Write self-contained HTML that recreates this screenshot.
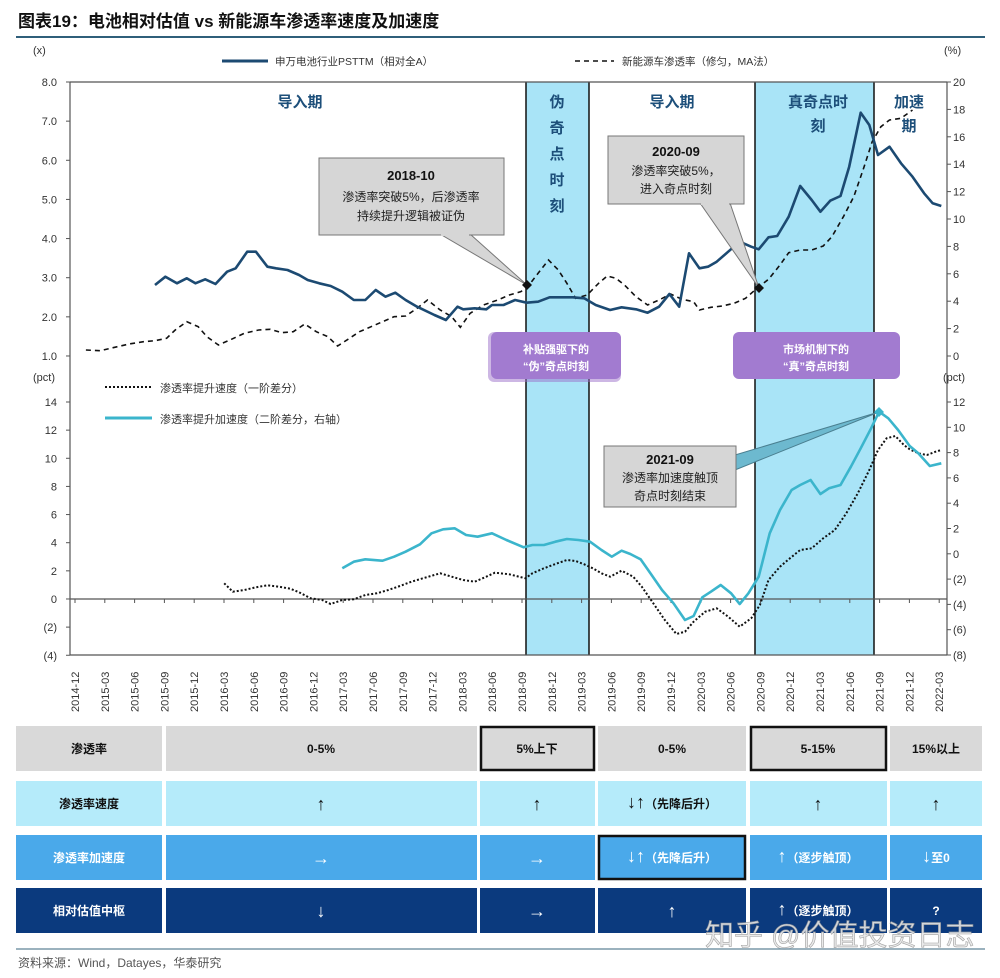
<!DOCTYPE html>
<html><head><meta charset="utf-8">
<style>
body{margin:0;background:#fff;width:1000px;height:973px;overflow:hidden;font-family:"Liberation Sans","Noto Sans CJK SC",sans-serif;}
svg text{font-family:"Liberation Sans","Noto Sans CJK SC",sans-serif;}
.ar{font-size:18px;}
</style></head><body>
<svg id="s" width="1000" height="973" viewBox="0 0 1000 973" xmlns="http://www.w3.org/2000/svg">
<text x="18" y="27" font-size="17" font-weight="bold" fill="#111">图表19：电池相对估值 vs 新能源车渗透率速度及加速度</text>
<line x1="16" y1="37" x2="985" y2="37" stroke="#2f5f7a" stroke-width="2"/>
<text x="33" y="54" font-size="11" fill="#333">(x)</text>
<text x="944" y="54" font-size="11" fill="#333">(%)</text>
<line x1="222" y1="61" x2="268" y2="61" stroke="#1c4a72" stroke-width="3"/>
<text x="275" y="65" font-size="10.5" fill="#333">申万电池行业PSTTM（相对全A）</text>
<line x1="575" y1="61" x2="614" y2="61" stroke="#111" stroke-width="1.6" stroke-dasharray="5,4"/>
<text x="622" y="65" font-size="10.5" fill="#333">新能源车渗透率（修匀，MA法）</text>
<rect x="526" y="82" width="63" height="573" fill="#a9e4f7"/>
<rect x="755" y="82" width="119" height="573" fill="#a9e4f7"/>
<g stroke="#111" stroke-width="1.5">
<line x1="526" y1="82" x2="526" y2="655"/><line x1="589" y1="82" x2="589" y2="655"/>
<line x1="755" y1="82" x2="755" y2="655"/><line x1="874" y1="82" x2="874" y2="655"/>
</g>
<g fill="#1d4f7a" font-size="15" font-weight="bold" text-anchor="middle">
<text x="300" y="107">导入期</text><text x="672" y="107">导入期</text>
<text x="557" y="107">伪</text><text x="557" y="133">奇</text><text x="557" y="159">点</text><text x="557" y="185">时</text><text x="557" y="211">刻</text>
<text x="818" y="107">真奇点时</text><text x="818" y="131">刻</text>
<text x="909" y="107">加速</text><text x="909" y="131">期</text>
</g>
<g stroke="#555" stroke-width="1.2" fill="none">
<line x1="70" y1="82" x2="70" y2="655"/><line x1="947" y1="82" x2="947" y2="655"/>
<line x1="70" y1="82" x2="947" y2="82"/><line x1="70" y1="655" x2="947" y2="655"/>
<line x1="70" y1="599" x2="947" y2="599"/>
</g>
<g id="ticks" stroke="#555" stroke-width="1"></g>
<g font-size="11" fill="#333" text-anchor="end" id="ll"></g>
<g font-size="11" fill="#333" text-anchor="start" id="rl"></g>
<text x="33" y="381" font-size="11" fill="#333">(pct)</text>
<text x="943" y="381" font-size="11" fill="#333">(pct)</text>
<line x1="105" y1="387" x2="152" y2="387" stroke="#111" stroke-width="2" stroke-dasharray="2,2"/>
<text x="160" y="392" font-size="11" fill="#333">渗透率提升速度（一阶差分）</text>
<line x1="105" y1="418" x2="152" y2="418" stroke="#3bb5cc" stroke-width="3"/>
<text x="160" y="423" font-size="11" fill="#333">渗透率提升加速度（二阶差分，右轴）</text>
<g id="series"></g>
<polygon points="440,234 470,234 527,285" fill="#d6d6d6" stroke="#777"/>
<rect x="319" y="158" width="185" height="77" fill="#d6d6d6" stroke="#777"/>
<rect x="441" y="232" width="28" height="4" fill="#d6d6d6"/>
<text x="411" y="180" font-size="13" font-weight="bold" text-anchor="middle" fill="#111">2018-10</text>
<text x="411" y="201" font-size="12" text-anchor="middle" fill="#222">渗透率突破5%，后渗透率</text>
<text x="411" y="220" font-size="12" text-anchor="middle" fill="#222">持续提升逻辑被证伪</text>
<polygon points="700,203 730,203 759,288" fill="#d6d6d6" stroke="#777"/>
<rect x="608" y="136" width="136" height="68" fill="#d6d6d6" stroke="#777"/>
<rect x="701" y="201" width="28" height="4" fill="#d6d6d6"/>
<text x="676" y="156" font-size="13" font-weight="bold" text-anchor="middle" fill="#111">2020-09</text>
<text x="676" y="175" font-size="12" text-anchor="middle" fill="#222">渗透率突破5%，</text>
<text x="676" y="193" font-size="12" text-anchor="middle" fill="#222">进入奇点时刻</text>
<polygon points="735,455 735,470 879,412" fill="#6db9cf" stroke="#4a7f90"/>
<rect x="604" y="446" width="132" height="61" fill="#d6d6d6" stroke="#777"/>
<text x="670" y="464" font-size="13" font-weight="bold" text-anchor="middle" fill="#111">2021-09</text>
<text x="670" y="482" font-size="12" text-anchor="middle" fill="#222">渗透率加速度触顶</text>
<text x="670" y="500" font-size="12" text-anchor="middle" fill="#222">奇点时刻结束</text>
<rect x="488" y="332" width="133" height="50" rx="6" fill="#9b6fc9" opacity="0.5"/>
<rect x="491" y="332" width="130" height="47" rx="6" fill="#a27bd0"/>
<text x="556" y="353" font-size="11" font-weight="bold" text-anchor="middle" fill="#fff">补贴强驱下的</text>
<text x="556" y="370" font-size="11" font-weight="bold" text-anchor="middle" fill="#fff">“伪”奇点时刻</text>
<rect x="733" y="332" width="167" height="47" rx="6" fill="#a27bd0"/>
<text x="816" y="353" font-size="11" font-weight="bold" text-anchor="middle" fill="#fff">市场机制下的</text>
<text x="816" y="370" font-size="11" font-weight="bold" text-anchor="middle" fill="#fff">“真”奇点时刻</text>
<polygon points="527,280 532,285 527,290 522,285" fill="#111"/>
<polygon points="759,283 764,288 759,293 754,288" fill="#111"/>
<polygon points="879,407 884,412 879,417 874,412" fill="#3bb5cc"/>
<g id="xl" font-size="11" fill="#333"></g>
<g font-size="12" font-weight="bold" text-anchor="middle">
<g fill="#d9d9d9"><rect x="16" y="726" width="146" height="45"/><rect x="166" y="726" width="311" height="45"/><rect x="480" y="726" width="115" height="45"/><rect x="598" y="726" width="148" height="45"/><rect x="750" y="726" width="137" height="45"/><rect x="890" y="726" width="92" height="45"/></g>
<rect x="481" y="727" width="113" height="43" fill="none" stroke="#111" stroke-width="2.5"/>
<rect x="751" y="727" width="135" height="43" fill="none" stroke="#111" stroke-width="2.5"/>
<g fill="#111"><text x="89" y="753">渗透率</text><text x="321" y="753">0-5%</text><text x="537" y="753">5%上下</text><text x="672" y="753">0-5%</text><text x="818" y="753">5-15%</text><text x="936" y="753">15%以上</text></g>
<g fill="#b5ebfa"><rect x="16" y="781" width="146" height="45"/><rect x="166" y="781" width="311" height="45"/><rect x="480" y="781" width="115" height="45"/><rect x="598" y="781" width="148" height="45"/><rect x="750" y="781" width="137" height="45"/><rect x="890" y="781" width="92" height="45"/></g>
<g fill="#111"><text x="89" y="808">渗透率速度</text><text class="ar" x="321" y="810">↑</text><text class="ar" x="537" y="810">↑</text><text x="672" y="808"><tspan class="ar">↓↑</tspan>（先降后升）</text><text class="ar" x="818" y="810">↑</text><text class="ar" x="936" y="810">↑</text></g>
<g fill="#4aa9ea"><rect x="16" y="835" width="146" height="45"/><rect x="166" y="835" width="311" height="45"/><rect x="480" y="835" width="115" height="45"/><rect x="598" y="835" width="148" height="45"/><rect x="750" y="835" width="137" height="45"/><rect x="890" y="835" width="92" height="45"/></g>
<rect x="599" y="836" width="146" height="43" fill="none" stroke="#111" stroke-width="2.5"/>
<g fill="#fff"><text x="89" y="862">渗透率加速度</text><text class="ar" x="321" y="864">→</text><text class="ar" x="537" y="864">→</text><text x="672" y="862"><tspan class="ar">↓↑</tspan>（先降后升）</text><text x="818" y="862"><tspan class="ar">↑</tspan>（逐步触顶）</text><text x="936" y="862"><tspan class="ar">↓</tspan>至0</text></g>
<g fill="#0b3a7e"><rect x="16" y="888" width="146" height="45"/><rect x="166" y="888" width="311" height="45"/><rect x="480" y="888" width="115" height="45"/><rect x="598" y="888" width="148" height="45"/><rect x="750" y="888" width="137" height="45"/><rect x="890" y="888" width="92" height="45"/></g>
<g fill="#fff"><text x="89" y="915">相对估值中枢</text><text class="ar" x="321" y="917">↓</text><text class="ar" x="537" y="917">→</text><text class="ar" x="672" y="917">↑</text><text x="818" y="915"><tspan class="ar">↑</tspan>（逐步触顶）</text><text x="936" y="915">?</text></g>
</g>
<text x="705" y="945" font-size="29" fill="#e8e8e8" stroke="#999" stroke-width="0.6" opacity="0.9">知乎 @价值投资日志</text>
<line x1="16" y1="949" x2="985" y2="949" stroke="#7a98a8" stroke-width="1.5"/>
<text x="18" y="967" font-size="12" fill="#555">资料来源：Wind，Datayes，华泰研究</text>
</svg>
<script>
var NS="http://www.w3.org/2000/svg";
function el(p,t,a,txt){var e=document.createElementNS(NS,t);for(var k in a)e.setAttribute(k,a[k]);if(txt!==undefined)e.textContent=txt;document.getElementById(p).appendChild(e);return e;}
var L=["8.0","7.0","6.0","5.0","4.0","3.0","2.0","1.0"];
for(var i=0;i<8;i++){var y=82+i*39.14;el("ll","text",{x:57,y:y+4},L[i]);el("ticks","line",{x1:66,y1:y,x2:70,y2:y});}
for(var i=0;i<=10;i++){var y=82+i*27.4;el("rl","text",{x:953,y:y+4},String(20-2*i));el("ticks","line",{x1:947,y1:y,x2:951,y2:y});}
var LL=["14","12","10","8","6","4","2","0","(2)","(4)"];
for(var i=0;i<10;i++){var y=402+i*28.14;el("ll","text",{x:57,y:y+4},LL[i]);el("ticks","line",{x1:66,y1:y,x2:70,y2:y});}
var RL=["12","10","8","6","4","2","0","(2)","(4)","(6)","(8)"];
for(var i=0;i<11;i++){var y=402+i*25.3;el("rl","text",{x:953,y:y+4},RL[i]);el("ticks","line",{x1:947,y1:y,x2:951,y2:y});}
var yrs=[];var y0=2014,m0=12;
for(var i=0;i<30;i++){var mm=m0+3*i;var yy=y0+Math.floor((mm-1)/12);var m=((mm-1)%12)+1;yrs.push(yy+"-"+(m<10?"0":"")+m);}
for(var i=0;i<30;i++){var x=75+i*29.8;if(x>940)break;el("xl","text",{transform:"translate("+(x+4)+",712) rotate(-90)"},yrs[i]);el("ticks","line",{x1:x,y1:599,x2:x,y2:603});}
function pts(a,oy){var s=[];for(var i=0;i<a.length;i+=2){s.push((60+a[i]/1.736).toFixed(1)+","+(oy+a[i+1]/3).toFixed(1));}return s.join(" ");}
var dark=[165,645,183,620,203,640,220,625,235,640,252,628,270,642,290,605,305,595,325,545,340,545,360,590,375,595,395,600,415,615,430,630,450,640,470,648,490,665,510,690,530,690,548,660,565,680,582,668,600,690,620,710,650,735,670,750,690,710,700,718,720,715,740,718,750,705,770,705,790,690,810,698,830,695,850,682,870,682,890,682,910,685,930,705,955,720,975,712,1000,718,1020,728,1040,710,1058,672,1075,710,1092,550,1110,595,1125,590,1140,575,1160,545,1180,515,1200,530,1213,538,1230,502,1245,498,1265,440,1285,348,1305,390,1320,425,1337,392,1355,378,1370,290,1390,128,1405,165,1420,255,1440,230,1460,280,1480,320,1500,370,1515,400,1530,408];
var dash=[45,840,70,842,95,832,120,822,145,815,165,812,185,805,200,780,220,755,240,770,255,800,275,825,295,810,320,790,345,780,365,778,385,788,405,785,425,762,445,785,465,800,482,828,500,808,520,785,540,770,560,755,580,740,600,738,620,715,638,690,660,720,680,740,695,772,712,730,735,705,760,690,780,675,800,665,812,650,830,610,848,570,865,600,880,640,895,685,915,675,935,640,950,618,965,625,980,645,1000,680,1020,705,1040,690,1060,672,1080,688,1100,695,1110,720,1130,712,1150,708,1170,700,1190,685,1210,655,1230,628,1250,585,1265,548,1285,540,1305,540,1325,528,1340,500,1360,440,1378,380,1395,295,1410,215,1425,170,1440,150,1460,145,1480,120];
var cyan=[490,625,510,605,530,598,560,602,580,590,600,575,625,553,645,520,665,508,685,505,705,525,725,530,750,520,775,540,805,562,820,555,840,555,860,545,880,537,900,540,920,545,940,570,958,590,975,572,990,582,1008,598,1025,640,1045,690,1065,730,1085,780,1100,768,1115,712,1130,695,1147,675,1165,700,1180,732,1195,700,1213,650,1232,520,1250,450,1270,390,1285,375,1303,360,1320,402,1335,385,1355,375,1373,320,1390,265,1408,205,1422,155,1438,175,1455,210,1475,258,1490,280,1510,318,1530,310];
var dot=[285,670,300,695,320,690,340,682,360,676,380,680,400,686,415,697,435,715,455,720,470,732,490,720,510,718,530,705,550,700,570,690,590,678,610,665,630,655,660,640,680,650,700,660,720,665,740,650,755,638,780,643,808,655,820,640,840,625,860,612,880,600,895,603,910,613,925,625,940,640,955,650,975,632,995,650,1010,680,1030,730,1050,780,1070,822,1085,815,1100,785,1120,755,1140,745,1160,770,1180,800,1200,775,1215,735,1230,660,1250,620,1265,598,1285,570,1305,565,1325,535,1345,510,1365,460,1385,400,1405,330,1420,270,1435,235,1450,228,1465,255,1475,268,1490,280,1505,285,1520,275,1530,270];
el("series","polyline",{points:pts(dash,70),fill:"none",stroke:"#111","stroke-width":1.6,"stroke-dasharray":"5,4"});
el("series","polyline",{points:pts(dark,70),fill:"none",stroke:"#1c4a72","stroke-width":2.6,"stroke-linejoin":"round"});
el("series","polyline",{points:pts(dot,360),fill:"none",stroke:"#111","stroke-width":2,"stroke-dasharray":"2,2"});
el("series","polyline",{points:pts(cyan,360),fill:"none",stroke:"#3bb5cc","stroke-width":2.6,"stroke-linejoin":"round"});
</script>
</body></html>
